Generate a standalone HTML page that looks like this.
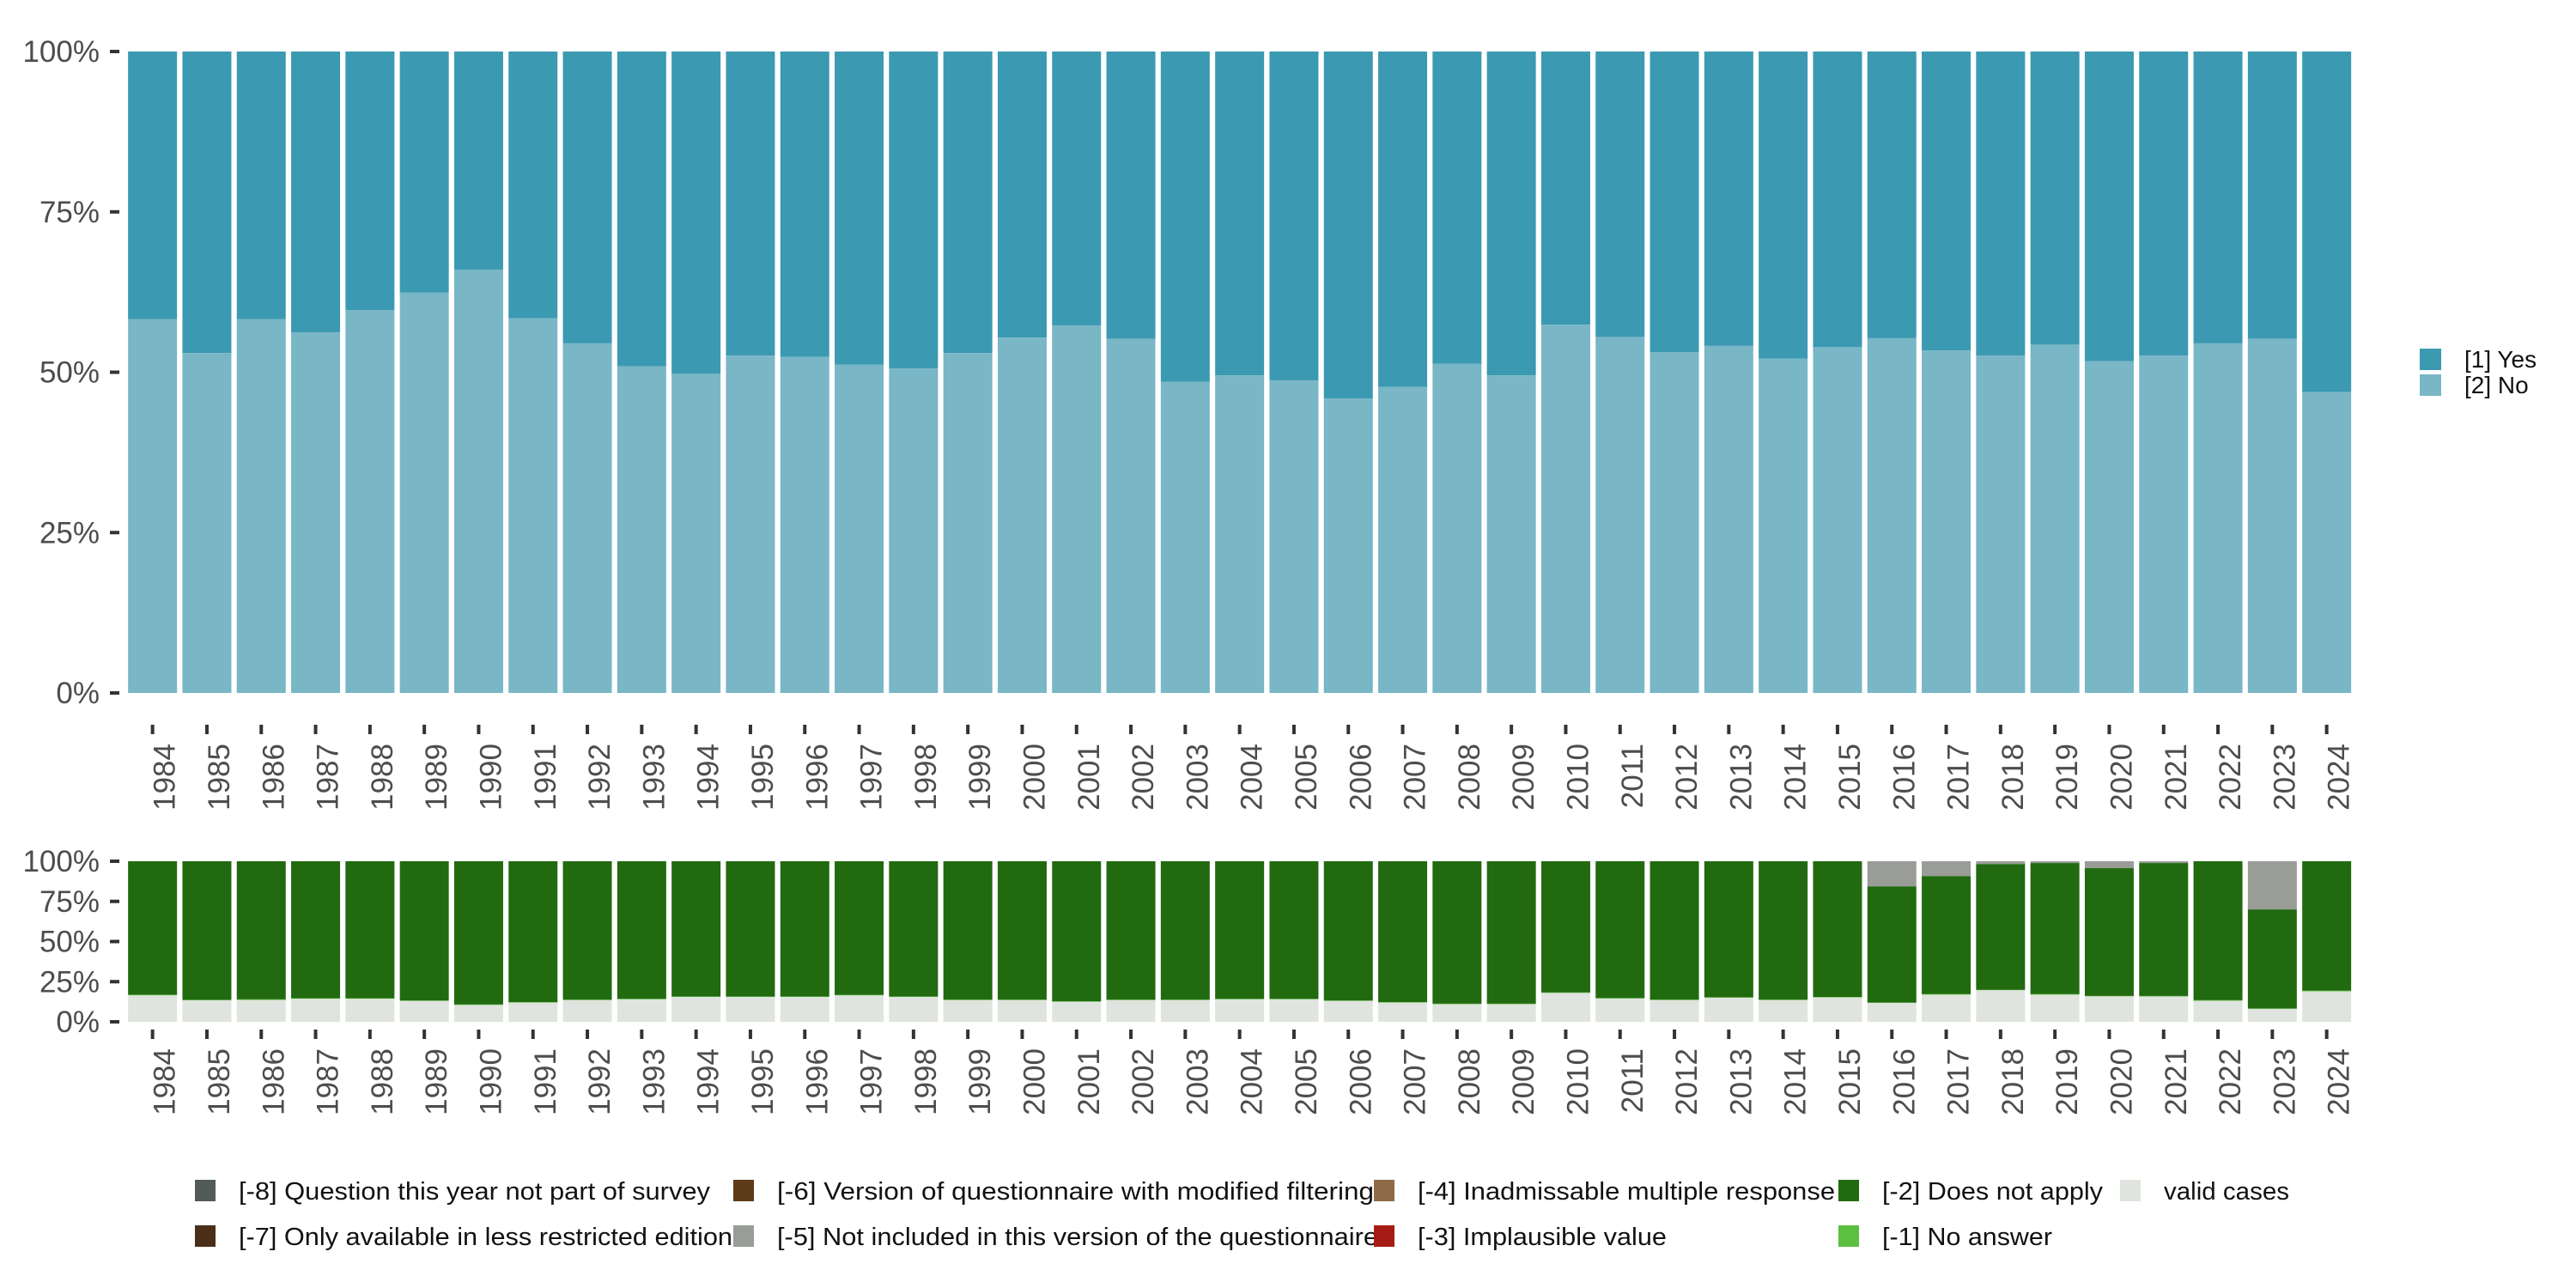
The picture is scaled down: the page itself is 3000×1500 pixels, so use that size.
<!DOCTYPE html>
<html><head><meta charset="utf-8"><style>
html,body{margin:0;padding:0;background:#fff;}
svg{display:block;}
text{font-family:"Liberation Sans",sans-serif;}
</style></head><body>
<svg id="chart" width="3000" height="1500" viewBox="0 0 3000 1500" xmlns="http://www.w3.org/2000/svg">
<g id="top"></g>
<g id="bot"></g>
<g id="legR"></g>
<g id="legB"></g>
</svg>
<script>
const years = [1984,1985,1986,1987,1988,1989,1990,1991,1992,1993,1994,1995,1996,1997,1998,1999,2000,2001,2002,2003,2004,2005,2006,2007,2008,2009,2010,2011,2012,2013,2014,2015,2016,2017,2018,2019,2020,2021,2022,2023,2024];
const noShare = [58.3,53,58.3,56.2,59.7,62.4,66,58.4,54.5,50.9,49.8,52.6,52.4,51.2,50.6,53,55.4,57.3,55.2,48.5,49.5,48.7,45.9,47.7,51.3,49.5,57.4,55.5,53.1,54.1,52.1,53.9,55.3,53.4,52.6,54.3,51.7,52.6,54.5,55.2,46.9];
const validShare = [16.5,13.4,13.6,14.4,14.4,13,10.5,12,13.5,14,15.5,15.5,15.5,16.5,15.5,13.5,13.5,12.5,13.5,13.5,14,14,13,12,11,11,18,14.5,13.5,15,13.5,15.2,11.8,16.9,19.7,16.9,15.9,15.8,13.1,8.1,19];
const noAnswerShare = [0.4,0.3,0.4,0.3,0.3,0.3,0.3,0.3,0.3,0.3,0.3,0.3,0.3,0.3,0.3,0.3,0.3,0.3,0.3,0.3,0.3,0.3,0.3,0.3,0.3,0.3,0.3,0.3,0.3,0.3,0.3,0.3,0.2,0.4,0.2,0.4,0.2,0.3,0.4,0.2,0.4];
const notIncludedShare = [0,0,0,0,0,0,0,0,0,0,0,0,0,0,0,0,0,0,0,0,0,0,0,0,0,0,0,0,0,0,0,0,15.6,9.2,1.7,1.1,4.3,1.1,0,30,0];
const pctTicks = [0,25,50,75,100];
const pctLabels = ["0%","25%","50%","75%","100%"];

const NS="http://www.w3.org/2000/svg";
function mk(tag,attrs,parent,txt){const e=document.createElementNS(NS,tag);for(const k in attrs)e.setAttribute(k,attrs[k]);if(txt!==undefined)e.textContent=txt;parent.appendChild(e);return e;}
const X0=146, BAND=63.3, BW=57;
function xBand(i){return X0+i*BAND+(BAND-BW)/2;}
function xCenter(i){return X0+i*BAND+BAND/2;}
function yScale(top,bottom){return v=>bottom-(bottom-top)*v/100;}

function axes(g,ys,top,bottom,tickY,labelY){
  pctTicks.forEach((t,k)=>{
    const y=ys(t);
    const tk=mk('rect',{x:128,y:y-2,width:11,height:4,fill:'#333'},g);
    
    
    const lb=mk('text',{x:116,y:y+12,'text-anchor':'end','font-size':35,fill:'#4d4d4d'},g,pctLabels[k]);
    
    
  });
  years.forEach((yr,i)=>{
    const cx=xCenter(i);
    const tk=mk('rect',{x:cx-2,y:tickY,width:4,height:11,fill:'#333'},g);
    
    
    const bx=cx+26;
    const lb=mk('text',{x:bx,y:labelY,'text-anchor':'end','font-size':35,fill:'#4d4d4d',transform:`rotate(-90 ${bx} ${labelY})`},g,String(yr));
    
    
  });
}

const gt=document.getElementById('top');
const yt=yScale(60,807);
years.forEach((yr,i)=>{
  const x=xBand(i);
  const no=noShare[i];
  const r1=mk('rect',{x:x,y:yt(100),width:BW,height:yt(no)-yt(100),fill:'#3c99b2'},gt);
  
  
  const r2=mk('rect',{x:x,y:yt(no),width:BW,height:yt(0)-yt(no),fill:'#79b6c6'},gt);
  
  
});
axes(gt,yt,60,807,844,866);

const gb=document.getElementById('bot');
const yb=yScale(1003,1190);
years.forEach((yr,i)=>{
  const x=xBand(i);
  const v=validShare[i], na=noAnswerShare[i], ni=notIncludedShare[i];
  const dna=100-v-na-ni;
  let base=0;
  const segs=[[v,'#e0e4de','valid'],[na,'#5bbf3f','no-answer'],[dna,'#216a10','does-not-apply'],[ni,'#999c97','not-included']];
  segs.forEach(s=>{
    if(s[0]<=0)return;
    const r=mk('rect',{x:x,y:yb(base+s[0]),width:BW,height:yb(base)-yb(base+s[0]),fill:s[1]},gb);
    
    
    base+=s[0];
  });
});
axes(gb,yb,1003,1190,1199,1221);

const gr=document.getElementById('legR');
[['[1] Yes','#3c99b2',406],['[2] No','#79b6c6',436]].forEach(e=>{
  const s=mk('rect',{x:2818,y:e[2],width:25,height:25,fill:e[1]},gr);
  
  
  const t=mk('text',{x:2870,y:e[2]+22,'font-size':28,fill:'#111'},gr,e[0]);
  
  
});

const gl=document.getElementById('legB');
const legItems=[
 [227,1374,'#535b56','[-8] Question this year not part of survey',549],
 [227,1427,'#4a2e17','[-7] Only available in less restricted edition',575],
 [854,1374,'#5c3a1a','[-6] Version of questionnaire with modified filtering',695],
 [854,1427,'#999c97','[-5] Not included in this version of the questionnaire',700],
 [1600,1374,'#8e6a48','[-4] Inadmissable multiple response',486],
 [1600,1427,'#a61c14','[-3] Implausible value',290],
 [2141,1374,'#216a10','[-2] Does not apply',257],
 [2141,1427,'#5bbf3f','[-1] No answer',198],
 [2469,1374,'#e0e4de','valid cases',146]
];
legItems.forEach(e=>{
  const s=mk('rect',{x:e[0],y:e[1],width:24,height:25,fill:e[2]},gl);
  
  
  const t=mk('text',{x:e[0]+51,y:e[1]+23,'font-size':29,fill:'#111',textLength:e[4],lengthAdjust:'spacingAndGlyphs'},gl,e[3]);
  
  
});
</script>
</body></html>
